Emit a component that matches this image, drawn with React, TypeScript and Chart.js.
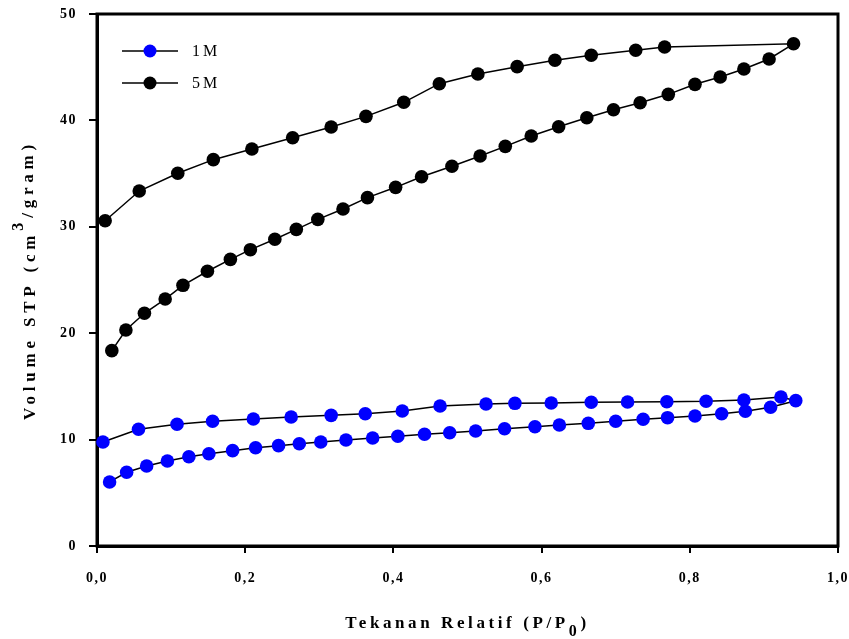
import { useEffect, useRef } from "react";
import { Chart, registerables } from "chart.js";

Chart.register(...registerables);

const label1M = "1M";
const label5M = "5M";

// 1M adsorption (lower branch, ascending P/P0)
const m1AdsX = [0.017, 0.040, 0.067, 0.095, 0.124, 0.151, 0.183, 0.214, 0.245, 0.273, 0.302, 0.336, 0.372, 0.406, 0.442, 0.476, 0.511, 0.550, 0.591, 0.624, 0.663, 0.700, 0.737, 0.770, 0.807, 0.843, 0.875, 0.909, 0.943];
const m1AdsY = [6.02, 6.93, 7.52, 7.99, 8.39, 8.67, 8.96, 9.24, 9.43, 9.61, 9.77, 9.96, 10.15, 10.31, 10.50, 10.65, 10.81, 11.02, 11.21, 11.37, 11.53, 11.72, 11.91, 12.06, 12.22, 12.43, 12.66, 13.04, 13.66];
// 1M desorption (upper branch, descending P/P0)
const m1DesX = [0.923, 0.873, 0.822, 0.769, 0.716, 0.667, 0.613, 0.564, 0.525, 0.463, 0.412, 0.362, 0.316, 0.262, 0.211, 0.156, 0.108, 0.056, 0.008];
const m1DesY = [14.0, 13.72, 13.60, 13.56, 13.53, 13.51, 13.44, 13.41, 13.35, 13.16, 12.69, 12.43, 12.28, 12.12, 11.94, 11.72, 11.44, 10.97, 9.77];

// 5M adsorption
const m5AdsX = [0.020, 0.039, 0.064, 0.092, 0.116, 0.149, 0.180, 0.207, 0.240, 0.269, 0.298, 0.332, 0.365, 0.403, 0.438, 0.479, 0.517, 0.551, 0.586, 0.623, 0.661, 0.697, 0.733, 0.771, 0.807, 0.841, 0.873, 0.907, 0.940];
const m5AdsY = [18.36, 20.3, 21.87, 23.21, 24.5, 25.82, 26.94, 27.85, 28.83, 29.76, 30.7, 31.67, 32.74, 33.71, 34.71, 35.69, 36.65, 37.56, 38.53, 39.4, 40.25, 41.0, 41.66, 42.45, 43.39, 44.08, 44.83, 45.77, 47.2];
// 5M desorption
const m5DesX = [0.766, 0.727, 0.667, 0.618, 0.567, 0.514, 0.462, 0.414, 0.363, 0.316, 0.264, 0.209, 0.157, 0.109, 0.057, 0.011];
const m5DesY = [46.9, 46.59, 46.12, 45.65, 45.05, 44.36, 43.45, 41.7, 40.38, 39.38, 38.37, 37.31, 36.31, 35.03, 33.36, 30.57];

const xTickValues = [0, 0.2, 0.4, 0.6, 0.8, 1.0];
const xTickLabels = ["0,0", "0,2", "0,4", "0,6", "0,8", "1,0"];
const yTickValues = [0, 10, 20, 30, 40, 50];
const yTickLabels = ["0", "10", "20", "30", "40", "50"];

const xTitleParts = ["Tekanan Relatif (P/P", "0", ")"];
const yTitleParts = ["Volume STP (cm", "3", "/gram)"];

const FONT = "'Liberation Serif', 'Times New Roman', serif";

function toPoints(xs: number[], ys: number[]) {
  return xs.map((x, i) => ({ x, y: ys[i] }));
}

function drawParts(
  ctx: CanvasRenderingContext2D,
  parts: string[],
  fonts: string[],
  shifts: number[],
  spacing: string
) {
  (ctx as any).letterSpacing = spacing;
  let total = 0;
  const widths = parts.map((p, i) => {
    ctx.font = fonts[i];
    const w = ctx.measureText(p).width;
    total += w;
    return w;
  });
  let x = -total / 2;
  ctx.textAlign = "left";
  ctx.textBaseline = "alphabetic";
  parts.forEach((p, i) => {
    ctx.font = fonts[i];
    ctx.fillText(p, x, shifts[i]);
    x += widths[i];
  });
}

const framePlugin = {
  id: "frame",
  beforeDraw(chart: any) {
    (chart.ctx as any).letterSpacing = "1.5px";
  },
  beforeDatasetsDraw(chart: any) {
    const { ctx, chartArea } = chart;
    ctx.save();
    ctx.strokeStyle = "#000";
    ctx.lineWidth = 3;
    ctx.strokeRect(chartArea.left, chartArea.top, chartArea.right - chartArea.left, chartArea.bottom - chartArea.top);
    ctx.restore();
  },
  afterDraw(chart: any) {
    const { ctx, chartArea } = chart;
    ctx.save();
    ctx.fillStyle = "#000";
    // x title
    ctx.save();
    ctx.translate((chartArea.left + chartArea.right) / 2, 628);
    drawParts(ctx, xTitleParts, [`bold 17px ${FONT}`, `bold 16px ${FONT}`, `bold 17px ${FONT}`], [0, 8, 0], "3.6px");
    ctx.restore();
    // y title
    ctx.save();
    ctx.translate(35, (chartArea.top + chartArea.bottom) / 2);
    ctx.rotate(-Math.PI / 2);
    drawParts(ctx, yTitleParts, [`bold 17px ${FONT}`, `bold 16px ${FONT}`, `bold 17px ${FONT}`], [0, -12, -2], "4.8px");
    ctx.restore();

    // legend inside plot
    chart.data.datasets.forEach((ds: any, i: number) => {
      const y = chartArea.top + 37 + i * 32;
      const l = chartArea.left;
      ctx.beginPath();
      ctx.strokeStyle = "#000";
      ctx.lineWidth = 1.5;
      ctx.moveTo(l + 25, y);
      ctx.lineTo(l + 81, y);
      ctx.stroke();
      ctx.beginPath();
      ctx.fillStyle = ds.pointBackgroundColor;
      ctx.arc(l + 53, y, 6.5, 0, Math.PI * 2);
      ctx.fill();
      ctx.fillStyle = "#000";
      (ctx as any).letterSpacing = "3px";
      ctx.font = `16px ${FONT}`;
      ctx.textAlign = "left";
      ctx.textBaseline = "middle";
      ctx.fillText(ds.label, l + 95, y + 1);
    });
    (ctx as any).letterSpacing = "0px";
    ctx.restore();
  },
};

export default function App() {
  const ref = useRef<HTMLCanvasElement | null>(null);
  useEffect(() => {
    document.body.style.margin = "0";
    const canvas = ref.current;
    if (!canvas) return;
    const chart = new Chart(canvas, {
      type: "scatter",
      data: {
        datasets: [
          {
            label: label1M,
            data: [...toPoints(m1AdsX, m1AdsY), ...toPoints(m1DesX, m1DesY)],
            showLine: true,
            borderColor: "#000",
            borderWidth: 1.5,
            pointBackgroundColor: "#0000FF",
            pointBorderColor: "#0000FF",
            pointBorderWidth: 0,
            pointRadius: 6.8,
            clip: false,
          } as any,
          {
            label: label5M,
            data: [...toPoints(m5AdsX, m5AdsY), ...toPoints(m5DesX, m5DesY)],
            showLine: true,
            borderColor: "#000",
            borderWidth: 1.5,
            pointBackgroundColor: "#000000",
            pointBorderColor: "#000000",
            pointBorderWidth: 0,
            pointRadius: 6.8,
            clip: false,
          } as any,
        ],
      },
      options: {
        animation: false,
        responsive: false,
        layout: { padding: { left: 0, top: 14, right: 11, bottom: 0 } },
        plugins: { legend: { display: false }, tooltip: { enabled: false } },
        scales: {
          x: {
            type: "linear",
            min: 0,
            max: 1,
            afterFit: (s: any) => { s.height = 93; s.paddingLeft = 0; s.paddingRight = 0; },
            afterBuildTicks: (s: any) => { s.ticks = xTickValues.map((v) => ({ value: v })); },
            ticks: {
              padding: 17,
              color: "#000",
              font: { family: FONT, size: 14, weight: "bold" },
              maxRotation: 0,
              callback: (v: any) => { const i = xTickValues.findIndex((t) => Math.abs(t - v) < 1e-9); return i >= 0 ? xTickLabels[i] : ""; },
            },
            grid: { drawOnChartArea: false, drawTicks: true, tickLength: 7, lineWidth: 2, tickWidth: 2, color: "#000" },
            border: { display: true, width: 3, color: "#000" },
          },
          y: {
            type: "linear",
            min: 0,
            max: 50,
            afterFit: (s: any) => { s.width = 97; s.paddingTop = 0; s.paddingBottom = 0; },
            afterBuildTicks: (s: any) => { s.ticks = yTickValues.map((v) => ({ value: v })); },
            ticks: {
              padding: 12,
              color: "#000",
              font: { family: FONT, size: 14, weight: "bold" },
              callback: (v: any) => { const i = yTickValues.indexOf(v); return i >= 0 ? yTickLabels[i] : ""; },
            },
            grid: { drawOnChartArea: false, drawTicks: true, tickLength: 8, lineWidth: 2, tickWidth: 2, color: "#000" },
            border: { display: true, width: 3, color: "#000" },
          },
        },
      } as any,
      plugins: [framePlugin],
    });
    return () => chart.destroy();
  }, []);
  return (
    <div style={{ width: 849, height: 639 }}>
      <canvas ref={ref} width={849} height={639} style={{ display: "block" }} />
    </div>
  );
}
